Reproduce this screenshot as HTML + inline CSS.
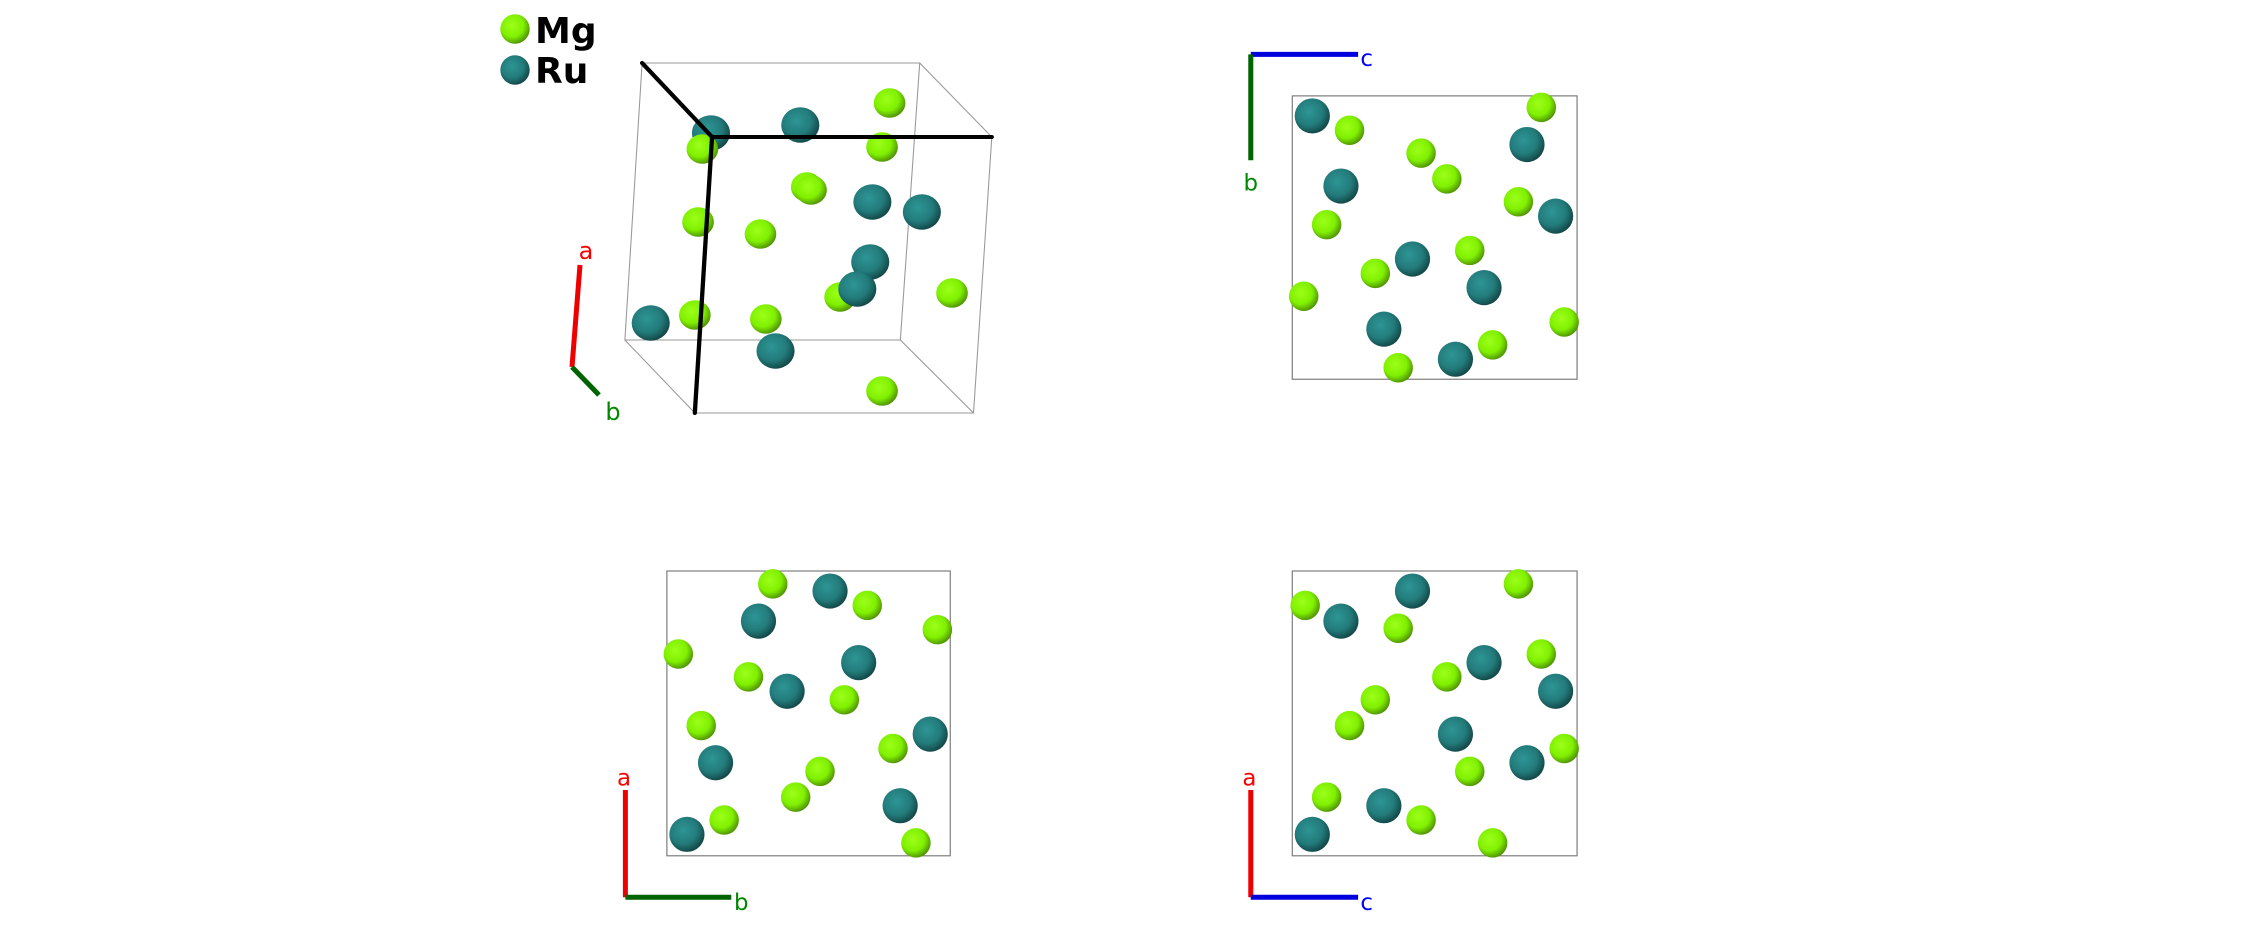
<!DOCTYPE html>
<html><head><meta charset="utf-8"><style>html,body{margin:0;padding:0;background:#fff;width:2244px;height:952px;overflow:hidden}</style></head>
<body>
<svg width="2244" height="952" viewBox="0 0 2244 952" xmlns="http://www.w3.org/2000/svg" font-family="'DejaVu Sans','Liberation Sans',sans-serif">
<defs>
<radialGradient id="mg" cx="0.4" cy="0.38" r="0.65"><stop offset="0" stop-color="#9cff1a"/><stop offset="0.6" stop-color="#80f000"/><stop offset="1" stop-color="#4e8f00"/></radialGradient>
<radialGradient id="ru" cx="0.4" cy="0.38" r="0.65"><stop offset="0" stop-color="#2e9595"/><stop offset="0.6" stop-color="#237b7b"/><stop offset="1" stop-color="#124545"/></radialGradient>
</defs>

<!-- Panel 1 -->
<g transform="matrix(1.076,0,0,1,-39,0)">
<g fill="none" stroke="#999" stroke-width="1">
<polygon points="633,63 891,63 873,340 617,340"/>
<polygon points="698,137 958,137 941,413 682,413"/>
<line x1="891" y1="63" x2="958" y2="137"/>
<line x1="873" y1="340" x2="941" y2="413"/>
<line x1="617" y1="340" x2="682" y2="413"/>
</g>
<circle cx="697" cy="133" r="17.7" fill="url(#ru)"/>
<circle cx="689" cy="149" r="14.7" fill="url(#mg)"/>
<circle cx="780" cy="125" r="17.7" fill="url(#ru)"/>
<circle cx="863" cy="103" r="14.7" fill="url(#mg)"/>
<circle cx="856" cy="147" r="14.7" fill="url(#mg)"/>
<circle cx="786" cy="187" r="14.7" fill="url(#mg)"/>
<circle cx="790" cy="190" r="14.7" fill="url(#mg)"/>
<circle cx="847" cy="202" r="17.7" fill="url(#ru)"/>
<circle cx="893" cy="212" r="17.7" fill="url(#ru)"/>
<circle cx="685" cy="222" r="14.7" fill="url(#mg)"/>
<circle cx="743" cy="234" r="14.7" fill="url(#mg)"/>
<circle cx="845" cy="262" r="17.7" fill="url(#ru)"/>
<circle cx="817" cy="297" r="14.7" fill="url(#mg)"/>
<circle cx="833" cy="289" r="17.7" fill="url(#ru)"/>
<circle cx="921" cy="293" r="14.7" fill="url(#mg)"/>
<circle cx="641" cy="323" r="17.7" fill="url(#ru)"/>
<circle cx="682" cy="315" r="14.7" fill="url(#mg)"/>
<circle cx="748" cy="319" r="14.7" fill="url(#mg)"/>
<circle cx="757" cy="351" r="17.7" fill="url(#ru)"/>
<circle cx="856" cy="391" r="14.7" fill="url(#mg)"/>
<g stroke="#000" stroke-width="4" fill="none" stroke-linecap="round">
<line x1="633" y1="63" x2="698" y2="137"/>
<line x1="698" y1="137" x2="958" y2="137"/>
<line x1="698" y1="137" x2="682" y2="413"/>
</g>
</g>
<circle cx="515" cy="29" r="14.7" fill="url(#mg)"/>
<circle cx="515" cy="70" r="14.7" fill="url(#ru)"/>
<text x="535" y="43" font-size="36" font-weight="bold" fill="#000">Mg</text>
<text x="535" y="83" font-size="36" font-weight="bold" fill="#000">Ru</text>
<g transform="translate(6,0)">
<line x1="566" y1="367" x2="574" y2="265" stroke="#e00" stroke-width="5"/>
<line x1="566" y1="367" x2="593" y2="395" stroke="#006400" stroke-width="5"/>
<text x="580" y="259" font-size="24" fill="#f00" text-anchor="middle">a</text>
<text x="607" y="420" font-size="24" fill="#080" text-anchor="middle">b</text>
</g>

<g transform="scale(1.4311)">
<rect x="903" y="67" width="199" height="198" fill="none" stroke="#777" stroke-width="0.8"/>
<line x1="874" y1="38" x2="949" y2="38" stroke="#00d" stroke-width="3.5"/>
<line x1="874" y1="38" x2="874" y2="112" stroke="#006400" stroke-width="3.5"/>
<text x="955" y="46" font-size="16" fill="#00f" text-anchor="middle">c</text>
<text x="874" y="133" font-size="16" fill="#080" text-anchor="middle">b</text>
<g>
<circle cx="917" cy="81" r="12.3" fill="url(#ru)"/>
<circle cx="943" cy="91" r="10.3" fill="url(#mg)"/>
<circle cx="1077" cy="75" r="10.3" fill="url(#mg)"/>
<circle cx="1067" cy="101" r="12.3" fill="url(#ru)"/>
<circle cx="993" cy="107" r="10.3" fill="url(#mg)"/>
<circle cx="1011" cy="125" r="10.3" fill="url(#mg)"/>
<circle cx="937" cy="130" r="12.3" fill="url(#ru)"/>
<circle cx="1061" cy="141" r="10.3" fill="url(#mg)"/>
<circle cx="1087" cy="151" r="12.3" fill="url(#ru)"/>
<circle cx="927" cy="157" r="10.3" fill="url(#mg)"/>
<circle cx="987" cy="181" r="12.3" fill="url(#ru)"/>
<circle cx="1027" cy="175" r="10.3" fill="url(#mg)"/>
<circle cx="961" cy="191" r="10.3" fill="url(#mg)"/>
<circle cx="1037" cy="201" r="12.3" fill="url(#ru)"/>
<circle cx="911" cy="207" r="10.3" fill="url(#mg)"/>
<circle cx="1093" cy="225" r="10.3" fill="url(#mg)"/>
<circle cx="967" cy="230" r="12.3" fill="url(#ru)"/>
<circle cx="1043" cy="241" r="10.3" fill="url(#mg)"/>
<circle cx="1017" cy="251" r="12.3" fill="url(#ru)"/>
<circle cx="977" cy="257" r="10.3" fill="url(#mg)"/>
</g>
<rect x="466" y="399" width="198" height="199" fill="none" stroke="#777" stroke-width="0.8"/>
<line x1="437" y1="552" x2="437" y2="627" stroke="#e00" stroke-width="3.5"/>
<line x1="437" y1="627" x2="511" y2="627" stroke="#006400" stroke-width="3.5"/>
<text x="436" y="549" font-size="16" fill="#f00" text-anchor="middle">a</text>
<text x="518" y="636" font-size="16" fill="#080" text-anchor="middle">b</text>
<g>
<circle cx="540" cy="408" r="10.3" fill="url(#mg)"/>
<circle cx="580" cy="413" r="12.3" fill="url(#ru)"/>
<circle cx="606" cy="423" r="10.3" fill="url(#mg)"/>
<circle cx="530" cy="434" r="12.3" fill="url(#ru)"/>
<circle cx="655" cy="440" r="10.3" fill="url(#mg)"/>
<circle cx="474" cy="457" r="10.3" fill="url(#mg)"/>
<circle cx="600" cy="463" r="12.3" fill="url(#ru)"/>
<circle cx="523" cy="473" r="10.3" fill="url(#mg)"/>
<circle cx="550" cy="483" r="12.3" fill="url(#ru)"/>
<circle cx="590" cy="489" r="10.3" fill="url(#mg)"/>
<circle cx="490" cy="507" r="10.3" fill="url(#mg)"/>
<circle cx="650" cy="513" r="12.3" fill="url(#ru)"/>
<circle cx="624" cy="523" r="10.3" fill="url(#mg)"/>
<circle cx="500" cy="533" r="12.3" fill="url(#ru)"/>
<circle cx="573" cy="539" r="10.3" fill="url(#mg)"/>
<circle cx="556" cy="557" r="10.3" fill="url(#mg)"/>
<circle cx="629" cy="563" r="12.3" fill="url(#ru)"/>
<circle cx="506" cy="573" r="10.3" fill="url(#mg)"/>
<circle cx="480" cy="583" r="12.3" fill="url(#ru)"/>
<circle cx="640" cy="589" r="10.3" fill="url(#mg)"/>
</g>
<rect x="903" y="399" width="199" height="199" fill="none" stroke="#777" stroke-width="0.8"/>
<line x1="874" y1="552" x2="874" y2="627" stroke="#e00" stroke-width="3.5"/>
<line x1="874" y1="627" x2="949" y2="627" stroke="#00d" stroke-width="3.5"/>
<text x="873" y="549" font-size="16" fill="#f00" text-anchor="middle">a</text>
<text x="955" y="636" font-size="16" fill="#00f" text-anchor="middle">c</text>
<g>
<circle cx="912" cy="423" r="10.3" fill="url(#mg)"/>
<circle cx="937" cy="434" r="12.3" fill="url(#ru)"/>
<circle cx="987" cy="413" r="12.3" fill="url(#ru)"/>
<circle cx="977" cy="439" r="10.3" fill="url(#mg)"/>
<circle cx="1061" cy="408" r="10.3" fill="url(#mg)"/>
<circle cx="1011" cy="473" r="10.3" fill="url(#mg)"/>
<circle cx="1037" cy="463" r="12.3" fill="url(#ru)"/>
<circle cx="1077" cy="457" r="10.3" fill="url(#mg)"/>
<circle cx="1087" cy="483" r="12.3" fill="url(#ru)"/>
<circle cx="961" cy="489" r="10.3" fill="url(#mg)"/>
<circle cx="943" cy="507" r="10.3" fill="url(#mg)"/>
<circle cx="1017" cy="513" r="12.3" fill="url(#ru)"/>
<circle cx="1093" cy="523" r="10.3" fill="url(#mg)"/>
<circle cx="1027" cy="539" r="10.3" fill="url(#mg)"/>
<circle cx="1067" cy="533" r="12.3" fill="url(#ru)"/>
<circle cx="927" cy="557" r="10.3" fill="url(#mg)"/>
<circle cx="967" cy="563" r="12.3" fill="url(#ru)"/>
<circle cx="993" cy="573" r="10.3" fill="url(#mg)"/>
<circle cx="917" cy="583" r="12.3" fill="url(#ru)"/>
<circle cx="1043" cy="589" r="10.3" fill="url(#mg)"/>
</g>
</g>
</svg>
</body></html>
